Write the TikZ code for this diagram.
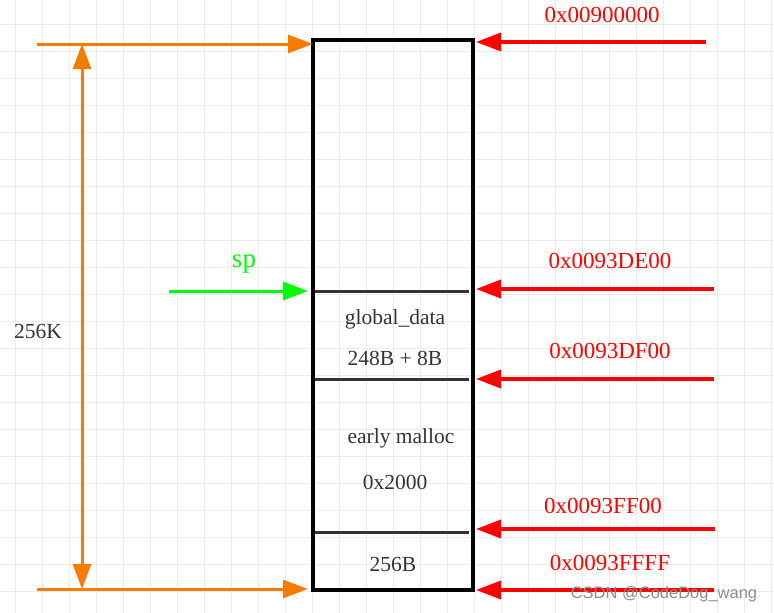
\documentclass[tikz,border=0pt]{standalone}
\usepackage{fontspec}
\setmainfont{Liberation Serif}
\newfontfamily\markfont{Liberation Sans}
\usetikzlibrary{positioning,arrows.meta,calc}
\definecolor{sizeorange}{RGB}{245,124,0}
\definecolor{addrred}{RGB}{255,0,0}
\definecolor{spgreen}{RGB}{0,255,0}
\definecolor{gridgray}{RGB}{236,236,236}
\tikzset{
	memmap/.style={x=1pt,y=-1pt,>={Triangle[length=25pt,width=18pt]}},
	membox/.style={draw,line width=3.2pt,minimum width=160pt,minimum height=550pt,
		inner sep=0pt,outer sep=0pt},
	divider/.style={draw=black!80,line width=3pt},
	sizearrow/.style={->,draw=sizeorange,fill=sizeorange,line width=3pt},
	addrarrow/.style={->,draw=addrred,fill=addrred,line width=3.5pt,shorten >=3pt},
	addr/.style={text=addrred,font=\fontsize{23}{26}\selectfont},
	content/.style={text=black!80,font=\fontsize{21.5}{25}\selectfont},
	gridline/.style={draw=gridgray,line width=1pt}
}

\begin{document}
\begin{tikzpicture}[memmap]
		\useasboundingbox (0,0) rectangle (774,613);
		
		% background grid
		\foreach \gx in {0,...,28} \draw[gridline] (15+27*\gx,0) -- (15+27*\gx,613);
		\foreach \gy in {0,...,21} \draw[gridline] (0,24+27*\gy) -- (774,24+27*\gy);
		
		% memory block
		\node[membox] (mem) at (393,315) {};
		\coordinate (deTop) at (315,291);
		\coordinate (dfTop) at (315,379);
		\coordinate (ffTop) at (315,532);
		\draw[divider] (deTop) -- ($(deTop -| mem.east)+(-4,0)$);
		\draw[divider] (dfTop) -- ($(dfTop -| mem.east)+(-4,0)$);
		\draw[divider] (ffTop) -- ($(ffTop -| mem.east)+(-4,0)$);
		
		\node[content] (gdata) at (395,319) {global\_data};
		\node[content] (gsize) at (395,358) {248B + 8B};
		\node[content] (early) at (401,438) {early malloc};
		\node[content] (esize) at (395,482) {0x2000};
		\node[content] (tail) at (393,564) {256B};
		
		% size marks
		\coordinate (topL) at (37,44);
		\coordinate (botL) at (37,589);
		\draw[sizearrow] (topL) -- (topL -| mem.west);
		\draw[sizearrow,shorten >=5pt] (botL) -- (botL -| mem.west);
		\coordinate (spanTop) at (82,44);
		\coordinate (spanBot) at (82,589);
		\draw[sizearrow,<->] (spanTop) -- (spanBot);
		\node[content] (span) at (38,331) {256K};
		
		% stack pointer
		\coordinate (spL) at (169,291);
		\draw[->,draw=spgreen,fill=spgreen,line width=3pt,shorten >=5pt] (spL) -- (spL -| mem.west);
		\node[text=spgreen,font=\fontsize{27}{30}\selectfont] (sp) at (244,264) {sp};
		
		% addresses
		\coordinate (a0) at (706,42);
		\coordinate (a1) at (714,289);
		\coordinate (a2) at (714,379);
		\coordinate (a3) at (715,529);
		\coordinate (a4) at (714,590);
		\draw[addrarrow] (a0) -- (a0 -| mem.east);
		\draw[addrarrow] (a1) -- (a1 -| mem.east);
		\draw[addrarrow] (a2) -- (a2 -| mem.east);
		\draw[addrarrow] (a3) -- (a3 -| mem.east);
		\draw[addrarrow] (a4) -- (a4 -| mem.east);
		\node[addr] (l0) at (602,15) {0x00900000};
		\node[addr] (l1) at (610,261) {0x0093DE00};
		\node[addr] (l2) at (610,351) {0x0093DF00};
		\node[addr] (l3) at (603,506) {0x0093FF00};
		\node[addr] (l4) at (610,563) {0x0093FFFF};
		
		\node[text=black!45,font=\markfont\fontsize{16.5}{19}\selectfont] (mark) at (664,594) {CSDN @CodeDog\_wang};
\end{tikzpicture}
\end{document}
